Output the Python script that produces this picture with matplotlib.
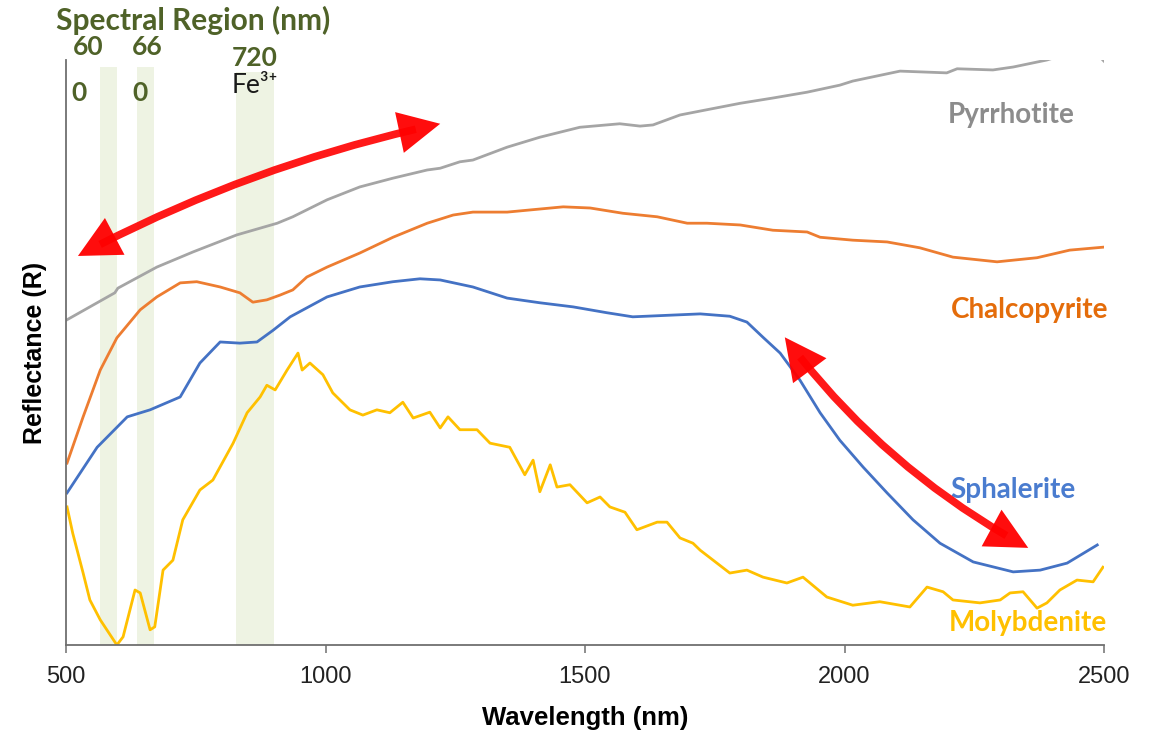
"""Reflectance spectra of four sulfide minerals with marked spectral regions."""

import matplotlib
matplotlib.use("Agg")
import matplotlib.pyplot as plt
from matplotlib.patches import FancyArrowPatch

# ─── Data (wavelength in nm, relative reflectance) ───────────────
pyr_nm = [502, 594, 600, 675, 745, 829, 907, 937, 1003, 1066, 1130, 1196, 1221,
          1259, 1284, 1350, 1413, 1490, 1567, 1606, 1631, 1683, 1735, 1799, 1862,
          1928, 1991, 2016, 2107, 2197, 2217, 2286, 2325, 2390, 2444, 2489, 2500]
pyr_r = [55.6, 60.2, 61.0, 64.6, 67.2, 70.1, 72.1, 73.2, 76.1, 78.3, 79.8, 81.2, 81.5,
         82.6, 82.9, 85.1, 86.8, 88.5, 89.1, 88.7, 88.9, 90.6, 91.5, 92.6, 93.5,
         94.5, 95.7, 96.4, 98.1, 97.8, 98.5, 98.3, 98.8, 100.0, 101.5, 100.8, 99.8]

chal_nm = [502, 533, 566, 598, 643, 675, 720, 752, 797, 835, 860, 887, 912, 937,
           964, 1003, 1066, 1130, 1196, 1246, 1284, 1350, 1458, 1510, 1573, 1639,
           1697, 1735, 1799, 1862, 1928, 1953, 2016, 2082, 2145, 2209, 2294, 2371,
           2434, 2498]
chal_r = [31.1, 39.0, 47.0, 52.5, 57.3, 59.5, 61.9, 62.1, 61.2, 60.2, 58.6, 59.0, 59.8,
          60.7, 62.9, 64.6, 67.0, 69.7, 72.1, 73.5, 74.0, 74.0, 74.9, 74.7, 73.8, 73.2,
          72.1, 72.1, 71.8, 70.9, 70.6, 69.7, 69.2, 68.9, 67.9, 66.3, 65.5, 66.2,
          67.5, 68.0]

sph_nm = [502, 560, 618, 662, 720, 758, 797, 835, 868, 899, 932, 1003, 1066, 1130,
          1182, 1221, 1284, 1350, 1413, 1477, 1542, 1592, 1670, 1722, 1779, 1812,
          1843, 1876, 1914, 1953, 1991, 2036, 2082, 2132, 2184, 2248, 2325, 2377,
          2429, 2487]
sph_r = [26.0, 33.8, 39.0, 40.2, 42.4, 48.2, 51.8, 51.6, 51.8, 53.8, 56.1, 59.5, 61.2,
         62.1, 62.6, 62.4, 61.2, 59.3, 58.5, 57.8, 56.8, 56.1, 56.4, 56.6, 56.2, 55.2,
         52.6, 49.9, 45.3, 39.7, 35.0, 30.4, 26.0, 21.4, 17.4, 14.2, 12.5, 12.8,
         14.0, 17.1]

moly_nm = [502, 513, 533, 546, 566, 598, 610, 633, 643, 662, 671, 687, 706, 725, 758,
           783, 822, 849, 874, 887, 903, 926, 947, 955, 970, 995, 1014, 1047, 1072,
           1099, 1124, 1149, 1169, 1201, 1221, 1236, 1259, 1292, 1317, 1355, 1384,
           1400, 1413, 1433, 1446, 1471, 1504, 1529, 1548, 1577, 1600, 1639, 1658,
           1683, 1708, 1722, 1779, 1812, 1843, 1889, 1920, 1966, 2016, 2068, 2126,
           2159, 2190, 2209, 2261, 2300, 2319, 2344, 2371, 2390, 2415, 2448, 2479,
           2498]
moly_r = [23.6, 19.1, 12.3, 7.7, 4.3, 0.0, 1.4, 9.4, 8.9, 2.6, 3.1, 12.8, 14.5, 21.4,
          26.5, 28.2, 34.5, 39.7, 42.4, 44.4, 43.6, 47.0, 49.9, 47.0, 48.2, 46.2, 43.1,
          40.2, 39.3, 40.2, 39.7, 41.5, 38.8, 39.8, 37.1, 39.0, 36.8, 36.8, 34.5, 33.8,
          29.1, 31.6, 26.2, 30.8, 27.0, 27.4, 24.3, 25.3, 23.6, 22.7, 19.7, 21.0, 21.0,
          18.3, 17.4, 16.2, 12.3, 12.8, 11.6, 10.6, 11.6, 8.2, 6.8, 7.4, 6.5,
          9.9, 9.1, 7.7, 7.2, 7.7, 8.9, 9.1, 6.3, 7.2, 9.4, 11.1, 10.8,
          13.3]

# spectral regions (nm) shaded in the background
band_lo = [565, 637, 828]
band_hi = [598, 670, 901]

names = ["Pyrrhotite", "Chalcopyrite", "Sphalerite", "Molybdenite"]
line_colors = ["#a5a5a5", "#ed7d31", "#4472c4", "#ffc000"]
label_colors = ["#8c8c8c", "#e46c0a", "#4a7ccf", "#ffc000"]

xticks = [500, 1000, 1500, 2000, 2500]

# ─── Plot ─────────────────────────────────────────────────────────
fig = plt.figure(figsize=(11.59, 7.31), dpi=100)
ax = fig.add_axes([66 / 1159, 86 / 731, 1038 / 1159, 585 / 731])

band_tops = [0.988, 0.988, 0.979]
for lo, hi, top in zip(band_lo, band_hi, band_tops):
    ax.axvspan(lo, hi, ymin=0, ymax=top, color="#eef3e3", lw=0, zorder=0)

series = [(pyr_nm, pyr_r), (chal_nm, chal_r), (sph_nm, sph_r), (moly_nm, moly_r)]
for (x, y), c in zip(series, line_colors):
    ax.plot(x, y, color=c, lw=2.0, zorder=2)

ax.set_xlim(500, 2500)
ax.set_ylim(0, 100)
ax.set_xticks(xticks)
ax.set_yticks([])
for side in ["top", "right"]:
    ax.spines[side].set_visible(False)
for side in ["left", "bottom"]:
    ax.spines[side].set_color("#6f6f6f")
    ax.spines[side].set_linewidth(1.3)
ax.tick_params(axis="x", length=6, width=1.1, color="#6f6f6f", pad=9,
               labelsize=17, labelcolor="#222222")
for lab in ax.get_xticklabels():
    lab.set_family("Liberation Sans")

ax.set_xlabel("Wavelength (nm)", fontsize=18.5, fontweight="bold",
              family="Liberation Sans", labelpad=13)
ax.set_ylabel("Reflectance (R)", fontsize=18, fontweight="bold",
              family="Liberation Sans", labelpad=14)

# curve labels
label_pos = [(2321, 90.6), (2356, 57.3), (2325, 26.5), (2354, 3.8)]
for name, (lx, ly), c in zip(names, label_pos, label_colors):
    ax.text(lx, ly, name, color=c, fontsize=20, fontweight="bold",
            family="Lato", ha="center", va="center")

# spectral region header
olive = "#4f6228"
hdr = dict(color=olive, fontsize=19, fontweight="bold", family="Lato",
           ha="center", va="center", clip_on=False)
ax.text(481, 106.8, "Spectral Region (nm)", **{**hdr, "ha": "left", "fontsize": 21.5})
ax.text(542, 102.2, "60", **hdr)
ax.text(525, 94.4, "0", **hdr)
ax.text(656, 102.2, "66", **hdr)
ax.text(643, 94.4, "0", **hdr)
ax.text(864, 100.4, "720", **hdr)
ax.text(864, 95.7, "Fe³⁺", color="#1a1a1a", fontsize=19, family=["Lato", "DejaVu Sans"],
        ha="center", va="center")


# red double-headed arrows: thick shaft plus sharp filled heads
def red_arrow(p0, p1, rad):
    cs = f"arc3,rad={rad}"
    shaft = FancyArrowPatch(p0, p1, connectionstyle=cs, arrowstyle="-",
                            lw=5.5, color="#ff0000", alpha=0.9, zorder=5,
                            shrinkA=18, shrinkB=18, capstyle="butt")
    heads = FancyArrowPatch(p0, p1, connectionstyle=cs,
                            arrowstyle="<|-|>,head_length=1.5,head_width=0.75",
                            mutation_scale=20, lw=0, color="#ff0000", alpha=0.95,
                            zorder=6, shrinkA=0, shrinkB=0)
    ax.add_patch(shaft)
    ax.add_patch(heads)


red_arrow((523, 66.5), (1221, 89.1), -0.07)
red_arrow((1885, 52.6), (2354, 16.6), 0.11)

fig.savefig("out.png", dpi=100)
